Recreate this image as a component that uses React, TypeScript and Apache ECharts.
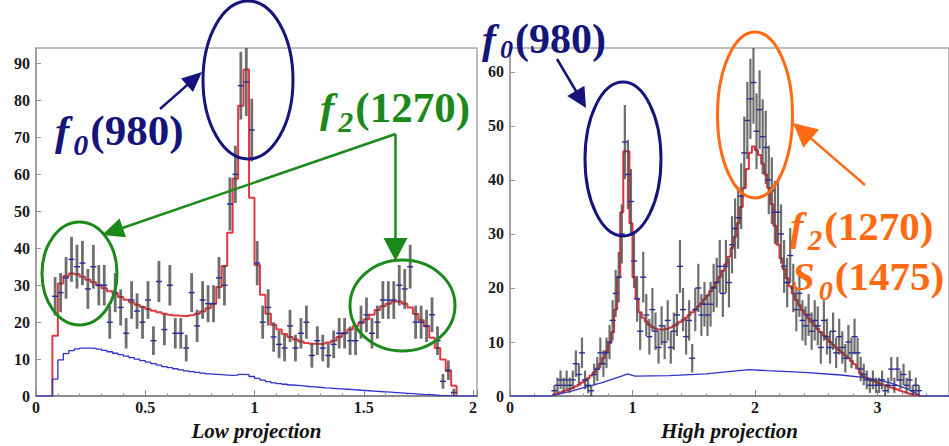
import React, { useEffect, useRef } from 'react';
import * as echarts from 'echarts';

// ---------------- data ----------------
// Low projection histogram: bins of width 0.025 starting at 0.075
const lowBinStart = 0.075;
const lowBinWidth = 0.025;
const lowCounts = [
  27, 28, 32, 37, 35, 36, 29, 35, 30, 30,
  20, 28, 24, 17, 26, 23, 20, 26, 15, 31,
  18, 30, 17, 17, 13, 28, 19, 26, 25, 25,
  32, 30, 52, 60, 84, 85, 72, 36, 20, 24,
  16, 14, 13, 19, 13, 17, 20, 11, 15, 13,
  11, 14, 17, 17, 15, 15, 20, 22, 17, 20,
  26, 26, 26, 30, 29, 35, 20, 20, 19, 22,
  15, 4, 7, 1,
];
const lowFit = [
  16.3, 30.5, 32.5, 33.2, 33.0, 32.3, 31.5, 30.8, 30.0, 29.2,
  28.4, 27.6, 26.8, 26.1, 25.4, 24.7, 24.1, 23.6, 23.1, 22.7,
  22.3, 22.0, 21.8, 21.7, 21.7, 21.9, 22.3, 22.9, 23.8, 25.0,
  29.5, 35.2, 44.2, 58.8, 78.6, 88.4, 53.7, 35.5, 27.4, 22.3,
  19.3, 18.0, 16.8, 16.0, 15.3, 14.8, 14.4, 14.2, 14.1, 14.2,
  14.5, 15.0, 16.0, 17.0, 18.0, 19.0, 19.8, 20.8, 22.0, 23.3,
  24.3, 25.0, 25.6, 25.6, 25.0, 24.0, 22.2, 20.5, 18.9, 15.8,
  13.0, 9.9, 6.8, 2.8,
];
const lowBackground = [
  4.6, 9.8, 11.5, 12.3, 12.8, 13.0, 13.0, 12.9, 12.7, 12.4,
  12.0, 11.6, 11.2, 10.8, 10.4, 10.0, 9.6, 9.2, 8.8, 8.4,
  8.0, 7.7, 7.4, 7.1, 6.8, 6.6, 6.4, 6.2, 6.0, 5.9,
  5.8, 5.7, 5.6, 5.7, 5.9, 5.8, 5.3, 4.8, 4.3, 3.9,
  3.6, 3.4, 3.2, 3.0, 2.9, 2.75, 2.6, 2.5, 2.4, 2.25,
  2.15, 2.05, 1.95, 1.85, 1.75, 1.65, 1.55, 1.45, 1.35, 1.25,
  1.15, 1.05, 0.95, 0.85, 0.75, 0.65, 0.55, 0.45, 0.38, 0.3,
  0.22, 0.15, 0.08, 0.02,
];

// High projection histogram: bins of width 0.025 starting at 0.35
const highBinStart = 0.35;
const highBinWidth = 0.025;
const highCounts = [
  1, 2, 3, 2, 3, 2, 3, 6, 4, 8,
  3, 2, 1, 4, 5, 8, 6, 8, 10, 14,
  19, 22, 30, 47, 41, 36, 25, 18, 12, 22,
  15, 11, 16, 12, 9, 13, 10, 14, 9, 12,
  15, 24, 16, 11, 14, 7, 16, 20, 15, 17,
  15, 17, 20, 21, 24, 19, 24, 21, 28, 31,
  33, 37, 45, 51, 55, 58, 49, 53, 48, 46,
  40, 38, 34, 34, 30, 24, 21, 26, 20, 16,
  19, 14, 13, 15, 12, 14, 13, 9, 14, 11,
  9, 12, 8, 11, 9, 7, 10, 8, 11, 8,
  5, 4, 3, 2, 3, 2, 2, 3, 1, 2,
  5, 2, 5, 3, 4, 2, 3, 1, 2, 1,
];
const highFit = [
  0.3, 0.5, 0.7, 0.9, 1.1, 1.3, 1.5, 1.8, 2.1, 2.5,
  2.9, 3.3, 3.8, 4.4, 5.1, 6.0, 7.0, 8.3, 9.8, 11.8,
  16, 22, 34, 45.3, 45.3, 32, 22, 18, 15.5, 14.5,
  13.8, 13.2, 12.8, 12.5, 12.3, 12.3, 12.4, 12.5, 12.7, 13.0,
  13.3, 13.7, 14.1, 14.5, 15.0, 15.5, 16.0, 16.6, 17.2, 17.9,
  18.6, 19.4, 20.2, 21.1, 22.1, 23.2, 24.4, 25.8, 27.4, 29.5,
  32.0, 35.0, 38.5, 42.0, 45.0, 46.2, 45.5, 44.6, 43.0, 41.0,
  38.5, 35.5, 31.5, 28.0, 25.5, 23.5, 21.8, 20.3, 19.0, 17.8,
  16.8, 15.9, 15.1, 14.4, 13.7, 13.0, 12.4, 11.8, 11.2, 10.6,
  10.0, 9.5, 9.0, 8.5, 8.0, 7.5, 7.0, 6.5, 5.9, 5.1,
  4.2, 3.6, 3.3, 3.0, 2.8, 2.6, 2.4, 2.2, 2.0, 1.8,
  1.6, 1.4, 1.2, 1.0, 0.8, 0.6, 0.45, 0.3, 0.15, 0.05,
];
const highBgX = [0, 0.33, 0.5, 0.75, 0.9, 0.96, 1.02, 1.3, 1.6, 1.95, 2.1, 2.4, 2.7, 2.9, 3.1, 3.25, 3.35, 3.6];
const highBgY = [0, 0, 0.9, 2.5, 3.6, 4.1, 3.7, 3.8, 4.1, 4.9, 4.7, 4.4, 3.9, 3.4, 2.5, 1.3, 0, 0];

const lowTicks = { min: 0, max: 2.0183, interval: 0.5, yMax: 94.2, yInterval: 10 };
const highTicks = { min: 0, max: 3.5837, interval: 1, yMax: 64.4, yInterval: 10 };

// ---------------- helpers ----------------
const SERIF = 'Liberation Serif';
const NAVY = '#14147a';
const GREEN = '#1b8a1b';
const ORANGE = '#ff6a13';

function points(start: number, w: number, counts: number[]) {
  // each point: bin centre, count, Poisson error
  return counts.map((c, i) => [start + w * (i + 0.5), c, Math.sqrt(c)]);
}
function steps(start: number, w: number, vals: number[], pre: number[][] = [], post: number[][] = []) {
  const d: number[][] = [...pre, [start, 0]];
  vals.forEach((v, i) => d.push([start + w * (i + 1), v]));
  d.push([start + w * vals.length, 0]);
  return [...d, ...post];
}

const measureCanvas = typeof document !== 'undefined' ? document.createElement('canvas') : null;
function textWidth(font: string, t: string) {
  const ctx = measureCanvas ? measureCanvas.getContext('2d') : null;
  if (!ctx) return t.length * 20;
  ctx.font = font;
  return ctx.measureText(t).width;
}

type Part = { t: string; italic?: boolean; sub?: boolean };
function label(x: number, baseline: number, color: string, size: number, subSize: number, subDrop: number, parts: Part[]) {
  const els: any[] = [];
  let cx = x;
  parts.forEach((p) => {
    const sz = p.sub ? subSize : size;
    const font = `${p.italic ? 'italic ' : ''}bold ${sz}px "${SERIF}"`;
    const base = p.sub ? baseline + subDrop : baseline;
    els.push({
      type: 'text',
      z: 100,
      x: cx,
      y: base - 0.3375 * sz,
      style: {
        text: p.t,
        fill: color,
        fontFamily: SERIF,
        fontSize: sz,
        fontWeight: 'bold',
        fontStyle: p.italic ? 'italic' : 'normal',
        align: 'left',
        verticalAlign: 'middle',
      },
    });
    cx += textWidth(font, p.t) + (p.sub ? 2 : p.italic ? 4 : 0);
  });
  return els;
}

function arrow(x1: number, y1: number, x2: number, y2: number, color: string, lw: number, headLen: number, headHalf: number) {
  const dx = x2 - x1;
  const dy = y2 - y1;
  const L = Math.sqrt(dx * dx + dy * dy);
  const ux = dx / L;
  const uy = dy / L;
  const bx = x2 - headLen * ux;
  const by = y2 - headLen * uy;
  const px = -uy;
  const py = ux;
  return [
    { type: 'line', z: 100, shape: { x1, y1, x2: bx + ux * 2, y2: by + uy * 2 }, style: { stroke: color, lineWidth: lw } },
    {
      type: 'polygon',
      z: 100,
      shape: { points: [[x2, y2], [bx + headHalf * px, by + headHalf * py], [bx - headHalf * px, by - headHalf * py]] },
      style: { fill: color },
    },
  ];
}
function ellipse(cx: number, cy: number, rx: number, ry: number, color: string) {
  return { type: 'ellipse', z: 100, shape: { cx, cy, rx, ry }, style: { fill: 'none', stroke: color, lineWidth: 3 } };
}

function errorBarSeries(xi: number, data: number[][], barW: number) {
  return {
    type: 'custom',
    xAxisIndex: xi,
    yAxisIndex: xi,
    clip: true,
    z: 4,
    data,
    encode: { x: 0, y: 1 },
    renderItem: (params: any, api: any) => {
      const x = api.value(0);
      const y = api.value(1);
      const e = api.value(2);
      const top = api.coord([x, y + e]);
      const bot = api.coord([x, Math.max(0, y - e)]);
      const c = api.coord([x, y]);
      return {
        type: 'group',
        children: [
          {
            type: 'rect',
            shape: { x: c[0] - barW / 2, y: top[1], width: barW, height: bot[1] - top[1] },
            style: { fill: '#454545', opacity: 0.78 },
          },
          {
            type: 'line',
            shape: { x1: c[0] - 3, y1: c[1], x2: c[0] + 3, y2: c[1] },
            style: { stroke: '#2a2aa0', lineWidth: 1.4 },
          },
        ],
      };
    },
  };
}

const axisLabelStyle = { fontFamily: SERIF, fontWeight: 'bold' as const, fontSize: 16, color: '#1a1a1a' };
const nameStyle = { fontFamily: SERIF, fontWeight: 'bold' as const, fontStyle: 'italic' as const, fontSize: 21, color: '#111' };

function xAxisCfg(gi: number, t: any, name: string) {
  return {
    gridIndex: gi,
    type: 'value',
    min: t.min,
    max: t.max,
    interval: t.interval,
    name,
    nameLocation: 'middle',
    nameGap: 18,
    nameTextStyle: nameStyle,
    axisLine: { lineStyle: { color: '#8a8a8a', width: 2 } },
    axisTick: { inside: true, length: 6, lineStyle: { color: '#888' } },
    minorTick: { show: true, splitNumber: 5, length: 3, lineStyle: { color: '#999' } },
    splitLine: { show: false },
    axisLabel: { ...axisLabelStyle, margin: 3, showMaxLabel: false },
  };
}
function yAxisCfg(gi: number, t: any) {
  return {
    gridIndex: gi,
    type: 'value',
    min: 0,
    max: t.yMax,
    interval: t.yInterval,
    axisLine: { show: true, lineStyle: { color: '#999', width: 1.5 } },
    axisTick: { show: true, inside: true, length: 5, lineStyle: { color: '#999' } },
    splitLine: { show: false },
    axisLabel: { ...axisLabelStyle, margin: 6, showMaxLabel: false },
  };
}

export default function App() {
  const ref = useRef<HTMLDivElement>(null);
  useEffect(() => {
    if (!ref.current) return;
    const chart = echarts.init(ref.current, null, { renderer: 'svg' });

    const graphics: any[] = [
      // left panel
      ellipse(248, 80, 45, 79, NAVY),
      ...arrow(160, 109, 202, 72, NAVY, 2.5, 20, 9),
      ...label(55, 145, NAVY, 43, 30, 10, [{ t: 'f', italic: true }, { t: '0', italic: true, sub: true }, { t: '(980)' }]),
      ellipse(79.5, 273.5, 37.5, 51.5, GREEN),
      ellipse(402.5, 305.5, 52.5, 45.5, GREEN),
      ...arrow(395.5, 134, 102, 235, GREEN, 2.5, 22, 10),
      ...arrow(395.5, 134, 395.5, 261, GREEN, 2.5, 23, 12),
      ...label(320, 122, GREEN, 43, 30, 10, [{ t: 'f', italic: true }, { t: '2', italic: true, sub: true }, { t: '(1270)' }]),
      // right panel
      ellipse(623, 159, 38, 77, NAVY),
      ...arrow(557, 59, 586, 108, NAVY, 2.5, 20, 10),
      ...label(482, 53, NAVY, 42, 26, 5, [{ t: 'f', italic: true }, { t: '0', italic: true, sub: true }, { t: '(980)' }]),
      ellipse(755, 115, 37.5, 83, ORANGE),
      ...arrow(865, 185, 793, 123, ORANGE, 2.5, 24, 12),
      ...label(790, 240, ORANGE, 41, 29, 10, [{ t: 'f', italic: true }, { t: '2', italic: true, sub: true }, { t: '(1270)' }]),
      ...label(792, 290, ORANGE, 41, 28, 10, [{ t: 'S', italic: true }, { t: '0', italic: true, sub: true }, { t: '(1475)' }]),
    ];

    const option: any = {
      animation: false,
      backgroundColor: '#ffffff',
      grid: [
        { left: 36, top: 48, width: 441, height: 365, show: true, borderColor: '#a8a8a8', borderWidth: 1.5 },
        { left: 510, top: 48, width: 439, height: 365, show: true, borderColor: '#a8a8a8', borderWidth: 1.5 },
      ],
      xAxis: [xAxisCfg(0, lowTicks, 'Low projection'), xAxisCfg(1, highTicks, 'High projection')],
      yAxis: [yAxisCfg(0, lowTicks), yAxisCfg(1, highTicks)],
      series: [
        {
          type: 'line', xAxisIndex: 0, yAxisIndex: 0, step: 'start', showSymbol: false, symbol: 'none', z: 3,
          lineStyle: { color: '#e5393f', width: 2 },
          data: steps(lowBinStart, lowBinWidth, lowFit),
        },
        {
          type: 'line', xAxisIndex: 0, yAxisIndex: 0, step: 'start', showSymbol: false, symbol: 'none', z: 3,
          lineStyle: { color: '#3030d0', width: 1.3 },
          data: steps(lowBinStart, lowBinWidth, lowBackground, [[0, 0]], [[lowTicks.max, 0]]),
        },
        errorBarSeries(0, points(lowBinStart, lowBinWidth, lowCounts), 2.8),
        {
          type: 'line', xAxisIndex: 1, yAxisIndex: 1, step: 'start', showSymbol: false, symbol: 'none', z: 3,
          lineStyle: { color: '#e0323a', width: 2 },
          data: steps(highBinStart, highBinWidth, highFit),
        },
        {
          type: 'line', xAxisIndex: 1, yAxisIndex: 1, showSymbol: false, symbol: 'none', z: 3,
          lineStyle: { color: '#3030d0', width: 1.3 },
          data: highBgX.map((x, i) => [x, highBgY[i]]),
        },
        errorBarSeries(1, points(highBinStart, highBinWidth, highCounts), 2.2),
      ],
      graphic: { elements: graphics },
    };
    chart.setOption(option);
    return () => chart.dispose();
  }, []);
  return <div ref={ref} style={{ position: 'absolute', left: 0, top: 0, width: 949, height: 446 }} />;
}
